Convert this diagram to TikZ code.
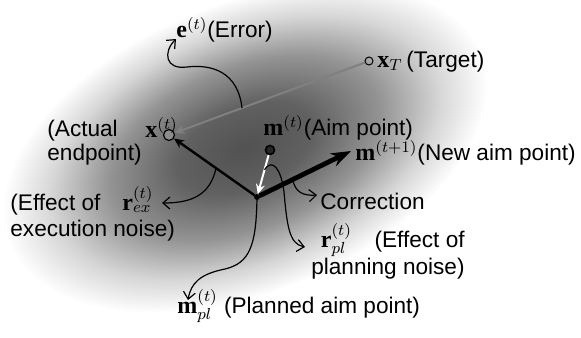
\documentclass[tikz,border=0pt]{standalone}
\usepackage[no-math]{fontspec}
\setmainfont{Liberation Sans}
\newfontfamily\vecfont{Liberation Serif}
\usetikzlibrary{arrows.meta, calc}

\newcommand{\bv}[1]{\mbox{\fontsize{12}{12}\vecfont\bfseries #1}}
\pgfdeclareradialshading{haze}{\pgfpoint{0bp}{0bp}}{color(0bp)=(black!68); color(7bp)=(black!62); color(14bp)=(black!42); color(20bp)=(black!16); color(25bp)=(white); color(50bp)=(white)}

\begin{document}
\begin{tikzpicture}[
        x=0.5pt, y=-0.5pt,
        every node/.style={font=\fontsize{11.3}{11.8}\selectfont},
        txt/.style={anchor=base west, inner sep=0pt},
        dot/.style={circle, draw, inner sep=0pt},
        mainarrow/.style={-{Stealth[length=5pt, width=4.5pt]}},
        note/.style={-{Straight Barb[length=3.5pt, width=6pt]}, line width=0.6pt}
    ]
    \useasboundingbox (0,0) rectangle (581,337);
    \begin{scope}[transform canvas={rotate around={22:(245,148)}}]
        \shade[shading=haze] (245,148) ellipse (255 and 145);
    \end{scope}

    \node[dot, minimum size=4pt, line width=0.5pt] (target) at (369,61) {};
    \node[dot, minimum size=5.5pt, fill=black!45, line width=0.6pt] (actual) at (169,135) {};
    \node[dot, minimum size=4.5pt, fill=black!85, line width=0.8pt] (aim) at (270,150) {};
    \node[dot, minimum size=2.5pt, fill=black] (planned) at (257,197) {};
    \coordinate (newaim) at (351,151);

    \draw[mainarrow, black!50, line width=1pt] (target) -- (actual);
    \draw[mainarrow, line width=1.2pt] (planned) -- (actual);
    \draw[mainarrow, white, line width=1pt] (aim) -- (planned);
    \draw[-{Stealth[length=10pt, width=7pt]}, line width=2.4pt] (planned) -- (newaim);

    % labels
    \node[txt] (errlbl) at (176,37) {$\bv{e}^{(t)}$(Error)};
    \node[txt] (targetlbl) at (377,67) {$\bv{x}_T$\,(Target)};
    \node[txt, align=left] (actuallbl) at (47,160) {(Actual\\endpoint)};
    \node[txt] (xlbl) at (145,137) {$\bv{x}^{(t)}$};
    \node[txt] (aimlbl) at (263,135) {$\bv{m}^{(t)}$(Aim point)};
    \node[txt] (newlbl) at (355,160) {$\bv{m}^{(t+1)}$(New aim point)};
    \node[txt] (corlbl) at (320,209) {Correction};
    \node[txt, align=left, font=\fontsize{11.3}{13}\selectfont] (exlbl) at (10,236) {(Effect of\\execution noise)};
    \node[txt] (rexlbl) at (122,210) {$\bv{r}^{(t)}_{ex}$};
    \node[anchor=base east, inner sep=0pt] (rpllbl) at (465,247) {$\bv{r}^{(t)}_{pl}$\quad(Effect of};
    \node[anchor=base east, inner sep=0pt] (rpllbl2) at (465,274) {planning noise)};
    \node[txt] (plannedlbl) at (177,313) {$\bv{m}^{(t)}_{pl}$ (Planned aim point)};

    % curved pointers
    \coordinate (errS) at ($(target)!0.635!(actual)$);
    \coordinate (errE) at (176,39);
    \coordinate (exS) at ($(planned)!0.465!(actual)$);
    \coordinate (exE) at (162,203);
    \coordinate (plE) at (188,300);
    \coordinate (rplS) at ($(aim)!0.42!(planned)$);
    \coordinate (rplE) at (305,247);
    \coordinate (corS) at ($(planned)!0.38!(newaim)$);
    \coordinate (corE) at (317,195);

    \draw[note] (errS) .. controls (238,72) and (212,64) .. (187,67) .. controls (165,70) and (163,52) .. (errE);
    \draw[note] (exS) .. controls (210,195) and (192,203) .. (exE);
    \draw[note] (planned) .. controls (256,245) and (250,263) .. (225,269) .. controls (200,274) and (191,283) .. (plE);
    \draw[note] (rplS) .. controls (272,158) and (281,168) .. (284,192) .. controls (287,225) and (289,244) .. (rplE);
    \draw[note] (corS) .. controls (295,192) and (303,196) .. (corE);
\end{tikzpicture}
\end{document}
